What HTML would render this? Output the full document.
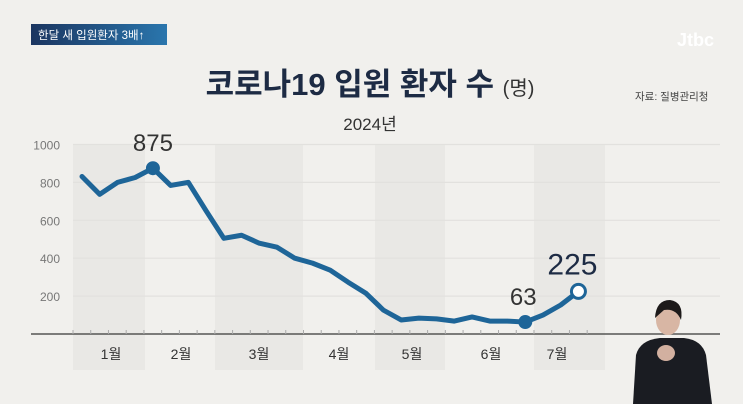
<!DOCTYPE html>
<html><head><meta charset="utf-8">
<style>
html,body{margin:0;padding:0;width:743px;height:404px;overflow:hidden;background:#f1f0ed;font-family:"Liberation Sans","Noto Sans CJK KR",sans-serif;}
svg{position:absolute;left:0;top:0}
</style></head><body>
<svg width="743" height="404" viewBox="0 0 743 404">
<defs>
<linearGradient id="bg" x1="0" x2="1"><stop offset="0" stop-color="#1b3560"/><stop offset="1" stop-color="#2a76ad"/></linearGradient>
</defs>
<rect x="31" y="24" width="136" height="21" fill="url(#bg)"/>
<text x="38" y="39" font-size="11.5" fill="#fff" font-family="Liberation Sans, Noto Sans CJK KR, sans-serif">한달 새 입원환자 3배↑</text>
<text x="677" y="46" font-size="18" font-weight="bold" fill="#fff">Jtbc</text>
<text x="370" y="95" text-anchor="middle" font-size="31" font-weight="bold" fill="#1d2b44" font-family="Liberation Sans, Noto Sans CJK KR, sans-serif">코로나19 입원 환자 수 <tspan font-size="20" font-weight="normal" fill="#333">(명)</tspan></text>
<text x="370" y="130" text-anchor="middle" font-size="17" fill="#333" font-family="Liberation Sans, Noto Sans CJK KR, sans-serif">2024년</text>
<text x="635" y="100" font-size="10.5" fill="#444" font-family="Liberation Sans, Noto Sans CJK KR, sans-serif">자료: 질병관리청</text>
<g id="bands"></g><g id="grid"></g><g id="axis"></g><g id="series"></g>
<g>
<path d="M633 404 L636 355 Q640 340 660 338 L684 338 Q702 340 706 355 L712 404 Z" fill="#1a1c22"/>
<ellipse cx="668" cy="320" rx="12" ry="15" fill="#d8b6a4"/>
<path d="M655 318 Q656 300 670 300 Q684 302 681 320 Q676 308 664 310 Z" fill="#1d1a1a"/>
<ellipse cx="666" cy="353" rx="9" ry="8" fill="#d2b0a0"/>
</g>
</svg>
<script>
const values=[831,737,800,826,875,784,800,650,505,521,479,458,400,374,337,274,216,126,74,84,80,68,90,68,68,63,100,153,225];
const yTicks=[200,400,600,800,1000];
const months=["1월","2월","3월","4월","5월","6월","7월"];
const ns="http://www.w3.org/2000/svg";
const X=i=>82+i*17.73, Y=v=>334-v*0.1895;
function mk(t,a,p){const e=document.createElementNS(ns,t);for(const k in a)e.setAttribute(k,a[k]);document.getElementById(p).appendChild(e);return e;}
[[73,145],[215,303],[375,445],[534,605]].forEach(b=>{const r=mk('rect',{x:b[0],y:145,width:b[1]-b[0],height:225,fill:'#e9e8e5'},'bands');

});
yTicks.forEach(t=>{const l=mk('line',{x1:73,x2:720,y1:Y(t),y2:Y(t),stroke:'#e2e1de','stroke-width':1.2},'grid');


const tx=mk('text',{x:60,y:Y(t)+5,'text-anchor':'end','font-size':12,fill:'#777'},'grid');tx.textContent=t;

});
const ax=mk('line',{x1:31,x2:720,y1:334,y2:334,stroke:'#555','stroke-width':1.5},'axis');


for(let i=0;i<30;i++){const t=mk('line',{x1:73+i*17.73,x2:73+i*17.73,y1:330,y2:334,stroke:'#aaa'},'axis');

}
months.forEach((m,i)=>{const t=mk('text',{x:[111,181,259,339,412,491,557][i],y:359,'text-anchor':'middle','font-size':14,fill:'#333'},'axis');
t.textContent=m;

});
const pl=mk('polyline',{points:values.map((v,i)=>X(i)+','+Y(v)).join(' '),fill:'none',stroke:'#1e6598','stroke-width':5,'stroke-linejoin':'round','stroke-linecap':'round'},'series');


const pk=values.indexOf(Math.max(...values));
const c1=mk('circle',{cx:X(pk),cy:Y(values[pk]),r:7,fill:'#1e6598'},'series');


const t1=mk('text',{x:X(pk),y:Y(values[pk])-17,'text-anchor':'middle','font-size':24,fill:'#333'},'series');t1.textContent=values[pk];


const mi=25;
const c2=mk('circle',{cx:X(mi),cy:Y(values[mi]),r:7,fill:'#1e6598'},'series');


const t2=mk('text',{x:X(mi)-2,y:Y(values[mi])-17,'text-anchor':'middle','font-size':24,fill:'#333'},'series');t2.textContent=values[mi];


const li=values.length-1;
const c3=mk('circle',{cx:X(li),cy:Y(values[li]),r:7,fill:'#fff',stroke:'#1e6598','stroke-width':3},'series');


const t3=mk('text',{x:X(li)-6,y:Y(values[li])-17,'text-anchor':'middle','font-size':30,fill:'#1d2b44'},'series');t3.textContent=values[li];


</script>
</body></html>
